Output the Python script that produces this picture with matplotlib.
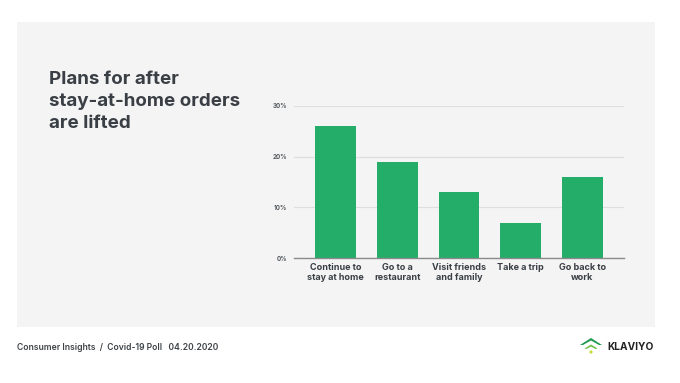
import matplotlib
matplotlib.use("Agg")
import matplotlib.pyplot as plt
from matplotlib.patches import Rectangle, Polygon, Circle

categories = ["Continue to\nstay at home", "Go to a\nrestaurant", "Visit friends\nand family", "Take a trip", "Go back to\nwork"]
values = [26, 19, 13, 7, 16]
yticks = [0, 10, 20, 30]
ytick_labels = ["0%", "10%", "20%", "30%"]

plt.rcParams['font.family'] = ['Inter', 'DejaVu Sans']

W, H = 680, 383
fig = plt.figure(figsize=(6.8, 3.83), dpi=100)
fig.patch.set_facecolor("white")

# grey panel (background axes)
bg = fig.add_axes([0, 0, 1, 1], zorder=-10)
bg.set_xlim(0, W)
bg.set_ylim(H, 0)
bg.axis("off")
bg.add_patch(Rectangle((17, 22), 655 - 17, 327 - 22, facecolor="#f4f4f4", edgecolor="none"))

# title
fig.text(49 / W, 1 - 71 / H, "Plans for after\nstay-at-home orders\nare lifted", fontsize=13.5, fontweight="bold",
         color="#3a3f45", va="top", ha="left", linespacing=1.4)

# chart axes
ax_l, ax_r = 294, 624
ax_t, ax_b = 105.7, 258.3
ax = fig.add_axes([ax_l / W, 1 - ax_b / H, (ax_r - ax_l) / W, (ax_b - ax_t) / H], zorder=5)
ax.set_facecolor("none")
x = list(range(len(categories)))
ax.bar(x, values, width=0.66, color="#24ad69", zorder=3)
ax.set_xlim(-0.675, 4.675)
ax.set_ylim(0, 30)
ax.set_yticks(yticks)
ax.set_yticklabels(ytick_labels)
ax.set_xticks(x)
ax.set_xticklabels(categories, fontsize=6.5, fontweight="bold", color="#3a3f45", linespacing=1.05)
for t in ax.get_yticklabels():
    t.set_fontsize(4.5)
    t.set_fontweight("bold")
    t.set_color("#555a5f")
ax.tick_params(axis="both", length=0)
ax.tick_params(axis="y", pad=5)
ax.tick_params(axis="x", pad=3.5)
ax.grid(axis="y", color="#dedede", linewidth=0.8, zorder=0)
for s in ["top", "right", "left"]:
    ax.spines[s].set_visible(False)
ax.spines["bottom"].set_color("#8a8a8a")
ax.spines["bottom"].set_linewidth(1.0)
ax.spines["bottom"].set_zorder(4)

# footer
fig.text(17 / W, 1 - 347 / H, "Consumer Insights  /  Covid-19 Poll   04.20.2020", fontsize=6.2, fontweight="semibold",
         color="#3f4448", va="center", ha="left")

# logo
lx, ly = 591, 346
bg.add_patch(Polygon([(lx - 11, ly - 1), (lx, ly - 8), (lx + 11, ly - 1), (lx + 8, ly - 1), (lx, ly - 5.5), (lx - 8, ly - 1)],
                     closed=True, facecolor="#1d9a4f", edgecolor="none"))
bg.add_patch(Polygon([(lx - 6.5, ly + 2.5), (lx, ly - 1.5), (lx + 6.5, ly + 2.5), (lx + 4.5, ly + 3), (lx, ly + 0.5), (lx - 4.5, ly + 3)],
                     closed=True, facecolor="#6cc04a", edgecolor="none"))
bg.add_patch(Circle((lx, ly + 6), 1.6, facecolor="#c5dc3a", edgecolor="none"))
fig.text(607 / W, 1 - 347 / H, "KLAVIYO", fontsize=7.3, fontweight="bold", color="#222222", va="center", ha="left")

fig.savefig("out.png", dpi=100, facecolor="white")
